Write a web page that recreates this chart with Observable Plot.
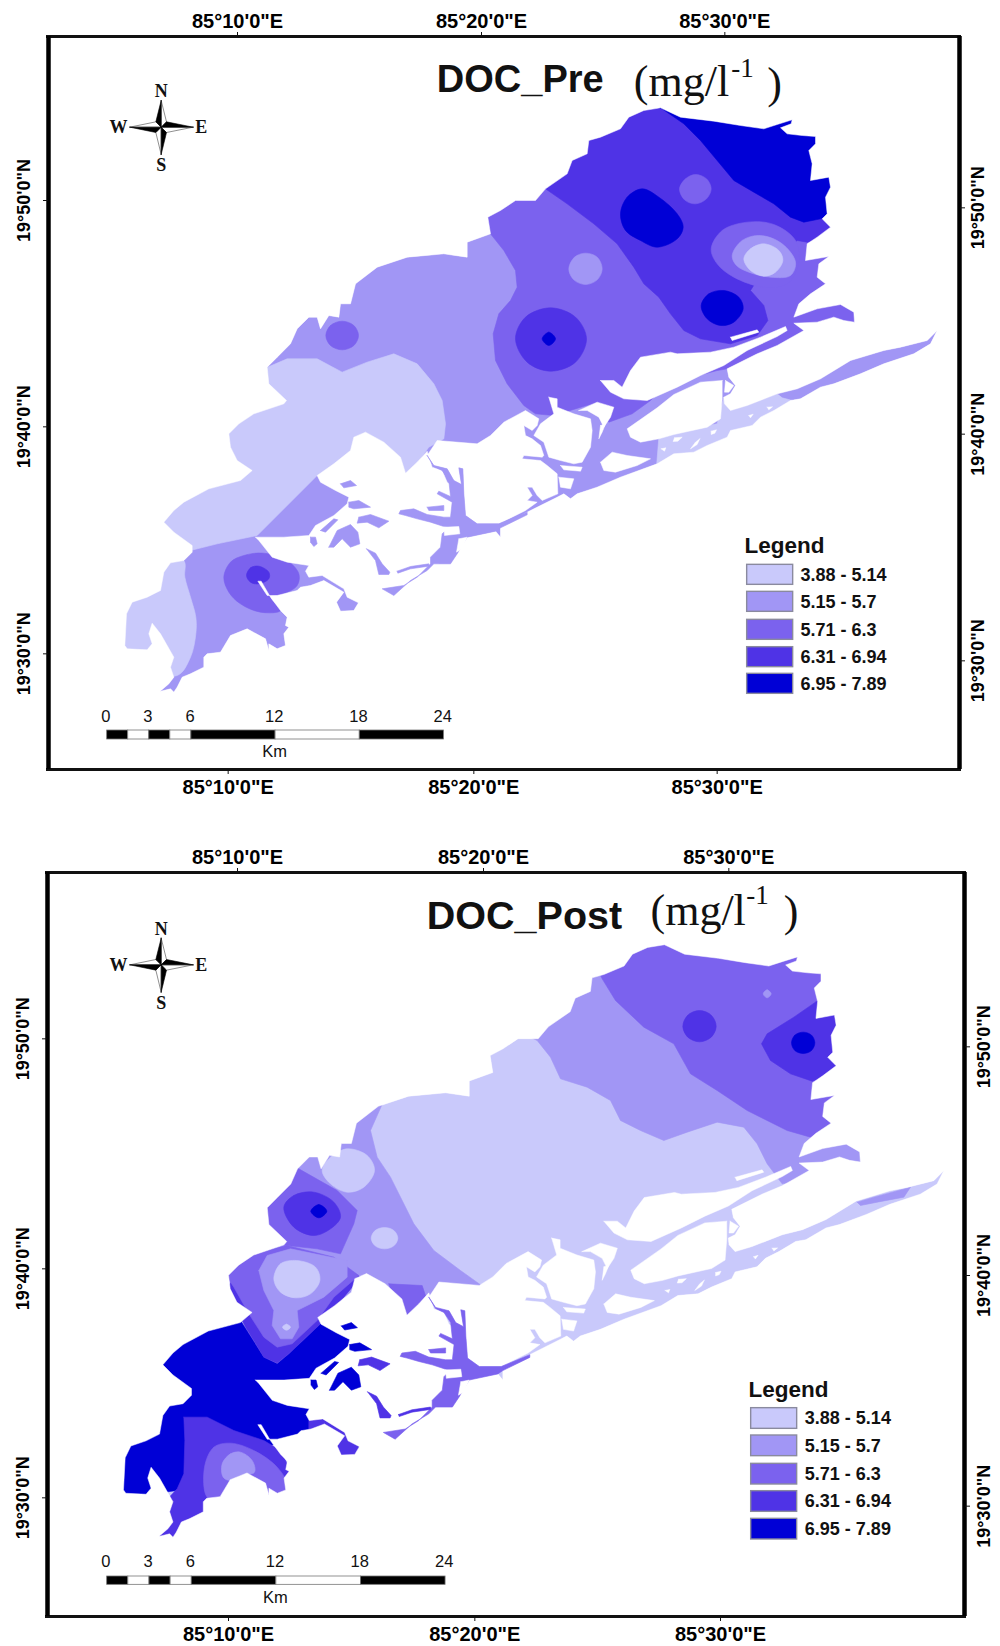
<!DOCTYPE html>
<html>
<head>
<meta charset="utf-8">
<script src="https://cdn.jsdelivr.net/npm/d3@7"></script>
<script src="https://cdn.jsdelivr.net/npm/@observablehq/plot@0.6"></script>
<style>
html,body{margin:0;padding:0;background:#fff}
svg{display:block}
</style>
</head>
<body>
<div id="chart"></div>
<script>
// Legend classes of DOC (mg/l)
const classes = ["3.88 - 5.14","5.15 - 5.7","5.71 - 6.3","6.31 - 6.94","6.95 - 7.89"];
const classColors = ["#c9c9fb","#a196f5","#7b62ee","#4f33e6","#0000d6"];
const [C1,C2,C3,C4,C5] = classes;

// Map grid: one unit is a third of a pixel (Pre panel).
const westCoast = [[478,2073],[505,2050],[520,2030],[510,2000],[520,1970],[480,1900],[455,1868],[445,1900],[455,1930],[440,1948],[380,1945],[373,1935],[378,1840],[395,1805],[440,1790],[480,1770],[490,1715],[510,1687],[550,1680],[575,1655],[575,1635],[520,1595],[490,1565],[520,1530],[550,1505],[625,1465],[720,1440],[755,1410],[710,1380],[690,1340],[685,1300],[715,1270],[760,1240],[850,1210],[858,1200],[805,1150],[800,1100],[830,1070],[870,1030],[890,985],[925,950],[950,950],[960,985],[985,945],[1015,950],[1020,910],[1050,910],[1065,850],[1130,800],[1220,770],[1330,760],[1400,770],[1400,725],[1470,700],[1462,650],[1500,630]];
const northCoast = [[1545,600],[1605,600],[1635,565],[1700,520],[1715,480],[1760,460],[1765,420],[1800,410],[1860,385],[1885,350],[1930,330],[1980,322],[2040,350],[2140,362],[2220,375],[2290,385],[2330,372],[2375,358],[2372,370],[2340,382],[2360,400],[2405,405],[2445,408],[2445,430],[2425,450],[2435,490],[2430,540],[2485,530],[2490,560],[2475,590],[2480,640],[2465,655],[2490,680],[2450,710],[2420,730],[2415,780],[2485,768],[2455,790],[2450,830],[2475,850],[2430,880],[2395,910],[2380,950],[2450,925],[2520,912],[2560,935],[2562,965],[2530,960],[2500,950],[2450,965],[2380,968],[2410,990]];
const spitCoast = [[2330,1035],[2270,1060],[2180,1105],[2185,1130],[2205,1155],[2190,1180],[2170,1190],[2172,1210],[2190,1230],[2240,1215],[2330,1180],[2390,1165],[2460,1135],[2550,1080],[2650,1050],[2700,1040],[2780,1020],[2810,990],[2790,1030],[2740,1060],[2650,1090],[2580,1120],[2500,1150],[2460,1160],[2400,1195],[2370,1200],[2320,1230],[2280,1250],[2255,1275],[2190,1290],[2180,1310],[2120,1335],[2080,1355],[2020,1360],[1970,1390],[1860,1430],[1790,1460],[1730,1480],[1710,1495],[1690,1480],[1670,1490],[1580,1535],[1500,1580],[1500,1610],[1485,1592],[1400,1610],[1370,1660],[1350,1690],[1300,1690],[1280,1710],[1230,1740],[1180,1785],[1145,1765]];
const southCoast = [[1075,1805],[1060,1830],[1020,1832],[1008,1805],[1030,1775],[970,1740],[930,1755],[900,1760],[890,1770],[830,1785],[800,1785],[772,1742],[782,1742],[810,1790],[840,1830],[860,1850],[855,1875],[865,1880],[850,1900],[855,1935],[830,1945],[805,1930],[805,1950],[795,1915],[740,1885],[690,1905],[660,1955],[620,1960],[610,1970],[610,2000],[570,2020],[545,2030],[530,2060],[520,2075],[510,2065]];
const coast = [...westCoast,...northCoast,...spitCoast,...southCoast];

// White islands inside the lagoon
const islandWest = [[765,1610],[850,1610],[925,1605],[945,1575],[1000,1545],[1040,1510],[1045,1490],[1005,1470],[960,1445],[950,1425],[1000,1390],[1050,1350],[1060,1310],[1095,1295],[1150,1325],[1200,1370],[1215,1418],[1250,1385],[1280,1352],[1295,1400],[1325,1410],[1340,1445],[1360,1460],[1360,1590],[1300,1720],[1150,1800],[1080,1810],[1040,1790],[1030,1765],[965,1725],[925,1730],[915,1712],[925,1695],[860,1685],[815,1670],[775,1620]];
const islandMiddle = [[1280,1365],[1310,1320],[1430,1330],[1470,1305],[1510,1265],[1575,1230],[1615,1255],[1610,1275],[1595,1290],[1570,1275],[1575,1305],[1595,1315],[1620,1335],[1630,1365],[1625,1370],[1570,1365],[1565,1375],[1620,1380],[1640,1395],[1670,1420],[1672,1480],[1625,1500],[1610,1485],[1595,1460],[1580,1460],[1595,1485],[1580,1500],[1610,1505],[1575,1530],[1495,1570],[1430,1570],[1395,1545],[1390,1480],[1387,1405],[1375,1402],[1383,1452],[1360,1440],[1340,1405],[1300,1395]];
const islandNorth = [[1645,1190],[1670,1195],[1670,1220],[1720,1240],[1770,1255],[1775,1290],[1770,1340],[1745,1385],[1720,1390],[1680,1380],[1645,1370],[1630,1325],[1600,1305],[1620,1270],[1660,1240]];
const islandNorthB = [[1735,1230],[1790,1205],[1840,1220],[1830,1250],[1810,1280],[1795,1250],[1760,1230]];
const islandSliver = [[1800,1275],[1815,1270],[1805,1295],[1795,1315]];
const islandLong = [[1800,1140],[1840,1140],[1865,1160],[1890,1110],[1920,1070],[2010,1055],[2030,1060],[2130,1055],[2200,1040],[2280,1010],[2355,978],[2360,990],[2330,1008],[2240,1050],[2170,1095],[2100,1125],[2030,1160],[1940,1200],[1870,1195],[1830,1175]];
const islandFleck = [[2190,1010],[2270,988],[2275,995],[2195,1020]];
const islandWedge = [[2165,1140],[2100,1145],[2020,1182],[1970,1222],[1880,1285],[1890,1310],[1920,1325],[1975,1315],[2020,1302],[2120,1280],[2160,1255],[2165,1195]];
const islandLagoon = [[1800,1385],[1835,1355],[1880,1365],[1950,1375],[1910,1395],[1845,1415],[1810,1410]];
const islandSmall1 = [[1675,1430],[1720,1435],[1710,1465],[1680,1460]];
const islandSmall2 = [[1680,1395],[1745,1400],[1740,1412],[1690,1408]];
const islandSmall3 = [[2175,1140],[2200,1155],[2185,1175],[2172,1175]];
const flecks = [[[2022,1312],[2045,1310],[2032,1322],[2018,1323]],[[2098,1315],[2090,1332],[2070,1345],[2085,1325]],[[1982,1345],[1996,1342],[1992,1352]],[[2132,1292],[2148,1288],[2143,1298],[2132,1302]],[[2300,1220],[2316,1219],[2305,1228]],[[2245,1245],[2258,1241],[2250,1252]]];
const islets = [[[1330,1580],[1375,1578],[1378,1600],[1332,1605]],[[1375,1615],[1400,1610],[1385,1645],[1368,1655]]];

// Tidal channels lying over the white islands
const channelNet = [[1280,1365],[1300,1395],[1340,1405],[1360,1440],[1383,1452],[1375,1402],[1387,1405],[1390,1480],[1395,1545],[1430,1570],[1495,1570],[1580,1535],[1580,1543],[1500,1582],[1485,1592],[1400,1610],[1370,1660],[1350,1690],[1300,1690],[1280,1710],[1230,1740],[1180,1785],[1145,1765],[1210,1755],[1250,1730],[1290,1690],[1290,1670],[1320,1640],[1325,1600],[1345,1580],[1330,1578],[1290,1565],[1250,1555],[1215,1545],[1195,1540],[1200,1530],[1240,1525],[1280,1542],[1330,1550],[1350,1550],[1355,1505],[1310,1480],[1315,1472],[1350,1488],[1345,1440],[1325,1410],[1300,1398]];
const channelBit = [[1280,1520],[1330,1515],[1330,1530],[1285,1530]];
const channelThin = [[1190,1712],[1230,1698],[1285,1690],[1285,1697],[1230,1705],[1192,1718]];
const channelA = [[1020,1450],[1050,1440],[1068,1455],[1030,1462]];
const channelB = [[1045,1505],[1075,1500],[1110,1520],[1060,1525],[1045,1520]];
const channelC = [[1075,1550],[1110,1542],[1165,1562],[1135,1582],[1100,1565],[1070,1568]];
const channelD = [[985,1640],[1010,1590],[1050,1572],[1072,1595],[1078,1630],[1050,1640],[1025,1615],[1000,1640]];
const channelE = [[960,1590],[1000,1555],[1012,1558],[975,1595]];
const channelF = [[930,1610],[945,1610],[950,1630],[940,1638],[930,1625]];
const channelG = [[1098,1645],[1125,1658],[1145,1690],[1168,1715],[1165,1722],[1135,1722],[1125,1680]];

// Contour zones, Pre panel
const prePolygons = [
  {c:C1, s:0, p:[[700,1120],[790,1105],[860,1075],[950,1075],[1025,1115],[1100,1085],[1180,1060],[1250,1090],[1300,1150],[1325,1200],[1335,1270],[1330,1315],[1285,1340],[1240,1400],[1230,1440],[1100,1450],[950,1425],[770,1605],[650,1630],[570,1650],[545,1680],[400,1680],[400,1500],[600,1200]]},
  {c:C1, s:1, p:[[300,1680],[548,1678],[553,1730],[570,1790],[586,1850],[586,1900],[570,1970],[530,2025],[400,2000],[300,1900]]},
  {c:C1, s:0, p:[[1975,1312],[2020,1295],[2150,1270],[2170,1190],[2190,1230],[2240,1215],[2330,1180],[2345,1192],[2395,1205],[2380,1300],[2100,1450],[1968,1398]]},
  {c:C3, s:0, p:[[1440,600],[1470,700],[1510,750],[1545,810],[1550,860],[1530,900],[1495,940],[1478,1000],[1485,1080],[1520,1150],[1570,1215],[1605,1240],[1660,1245],[1790,1205],[1825,1265],[1895,1240],[1950,1200],[2000,1150],[2150,1110],[2180,1105],[2420,1000],[2600,980],[2600,300],[1800,200]]},
  {c:C4, s:0, p:[[1600,530],[1635,565],[1700,610],[1780,670],[1850,730],[1900,800],[1930,850],[1975,890],[2010,940],[2050,990],[2100,1015],[2190,1030],[2270,1005],[2302,960],[2290,915],[2250,870],[2300,790],[2390,720],[2420,725],[2600,690],[2600,300],[1800,200]]},
  {c:C5, s:0, p:[[1960,318],[1985,325],[2050,370],[2100,420],[2150,480],[2200,540],[2260,575],[2320,610],[2370,650],[2410,665],[2460,655],[2520,630],[2600,630],[2600,300],[2000,280]]},
  {c:C5, s:1, p:[[1860,640],[1880,590],[1925,565],[1975,590],[2030,640],[2048,680],[2030,715],[1970,740],[1920,720],[1875,690]]},
  {c:C3, s:1, p:[[2037,565],[2055,535],[2085,522],[2118,535],[2132,565],[2118,595],[2085,610],[2052,598]]},
  {c:C2, s:1, p:[[1705,805],[1722,770],[1755,758],[1790,770],[1805,805],[1790,838],[1755,852],[1720,838]]},
  {c:C4, s:1, p:[[1545,1015],[1575,950],[1650,922],[1725,950],[1758,1015],[1725,1085],[1650,1112],[1580,1085]]},
  {c:C5, s:1, p:[[1625,1015],[1645,995],[1665,1015],[1645,1035]]},
  {c:C5, s:1, p:[[2102,915],[2125,880],[2170,870],[2215,890],[2228,925],[2200,965],[2160,975],[2120,955]]},
  {c:C3, s:1, p:[[2132,745],[2165,690],[2240,665],[2320,672],[2385,720],[2395,790],[2360,850],[2290,860],[2200,830],[2150,790]]},
  {c:C2, s:1, p:[[2195,765],[2225,720],[2280,705],[2345,730],[2385,785],[2370,825],[2310,830],[2245,815],[2208,795]]},
  {c:C1, s:1, p:[[2230,775],[2250,745],[2290,730],[2335,750],[2347,780],[2325,815],[2290,827],[2250,810]]},
  {c:C3, s:1, p:[[976,1005],[990,975],[1025,962],[1060,975],[1074,1005],[1060,1035],[1025,1048],[990,1035]]},
  {c:C3, s:1, p:[[670,1730],[690,1685],[730,1665],[790,1658],[860,1680],[895,1720],[890,1755],[850,1780],[810,1790],[840,1830],[780,1835],[720,1810],[685,1775]]},
  {c:C4, s:1, p:[[738,1725],[750,1702],[775,1697],[805,1715],[805,1735],[775,1750],[750,1745]]}
];

// Contour zones, Post panel, in the grid of that panel
const postPolygons = [
  {c:C2, s:0, p:[[1550,3090],[1610,3120],[1650,3170],[1680,3235],[1760,3260],[1830,3300],[1860,3360],[1920,3390],[1990,3420],[2060,3395],[2150,3365],[2230,3380],[2270,3430],[2300,3490],[2345,3550],[2600,3510],[2650,3000],[1800,2800]]},
  {c:C3, s:0, p:[[1780,2880],[1805,2935],[1845,3000],[1930,3080],[2020,3130],[2070,3220],[2150,3270],[2240,3330],[2360,3390],[2430,3410],[2500,3380],[2650,3000],[2450,2700],[1900,2700]]},
  {c:C2, s:1, p:[[2288,2980],[2300,2968],[2312,2980],[2300,2992]]},
  {c:C4, s:1, p:[[2047,3077],[2062,3044],[2097,3030],[2132,3044],[2147,3077],[2132,3110],[2097,3124],[2062,3110]]},
  {c:C4, s:0, p:[[2445,3005],[2380,3050],[2300,3100],[2283,3130],[2310,3180],[2370,3220],[2435,3242],[2520,3220],[2650,3100],[2550,2950]]},
  {c:C5, s:1, p:[[2373,3127],[2383,3104],[2408,3095],[2433,3104],[2443,3127],[2433,3150],[2408,3159],[2383,3150]]},
  {c:C2, s:0, p:[[2570,3605],[2620,3590],[2730,3560],[2710,3590],[2630,3605],[2580,3615]]},
  {c:C2, s:0, p:[[1150,3300],[1110,3390],[1130,3470],[1170,3530],[1210,3610],[1240,3670],[1300,3750],[1380,3810],[1450,3860],[1400,3900],[1100,3900],[950,3950],[800,4000],[600,3900],[600,3500],[900,3200],[1100,3250]]},
  {c:C1, s:1, p:[[965,3510],[990,3470],[1040,3445],[1100,3465],[1122,3510],[1090,3560],[1040,3575],[990,3550]]},
  {c:C1, s:1, p:[[1112,3713],[1124,3690],[1152,3681],[1180,3690],[1192,3713],[1180,3736],[1152,3745],[1124,3736]]},
  {c:C3, s:0, p:[[895,3505],[1010,3570],[1070,3630],[1060,3670],[1020,3760],[950,3745],[860,3735],[700,3720],[700,3550]]},
  {c:C4, s:1, p:[[850,3620],[880,3585],[940,3575],[1000,3605],[1020,3650],[990,3685],[940,3705],[880,3680]]},
  {c:C5, s:1, p:[[931,3632],[955,3612],[979,3632],[955,3652]]},
  {c:C5, s:0, p:[[720,3960],[790,4070],[830,4090],[865,4060],[960,3970],[1100,3950],[1100,4100],[1000,4200],[930,4240],[930,4290],[870,4315],[810,4335],[790,4345],[700,4300],[530,4470],[300,4500],[300,4000]]},
  {c:C4, s:0, p:[[680,3860],[720,3950],[735,3980],[790,4070],[830,4088],[865,4060],[960,3970],[980,3950],[1080,3830],[1000,3780],[760,3760]]},
  {c:C3, s:0, p:[[660,3800],[760,3755],[860,3735],[1000,3770],[1075,3825],[1000,3890],[950,3960],[875,4030],[830,4040],[790,4010],[745,3940],[700,3860]]},
  {c:C2, s:0, p:[[775,3810],[800,3765],[870,3745],[1040,3780],[1040,3830],[970,3890],[890,3930],[895,3980],[875,4015],[840,4015],[815,3975],[820,3930],[790,3870]]},
  {c:C1, s:1, p:[[820,3835],[840,3790],[888,3780],[945,3800],[958,3840],[930,3880],[885,3892],[840,3875]]},
  {c:C1, s:1, p:[[846,3980],[858,3971],[870,3980],[858,3989]]},
  {c:C3, s:0, p:[[1165,3850],[1265,3855],[1280,3900],[1240,3960],[1200,3950],[1180,3900]]},
  {c:C4, s:0, p:[[925,4240],[1100,4240],[1100,4400],[1000,4400],[925,4290]]},
  {c:C4, s:0, p:[[550,4250],[620,4250],[700,4290],[790,4320],[840,4350],[870,4410],[860,4480],[840,4500],[700,4560],[600,4620],[500,4650],[450,4550],[530,4465],[550,4420],[553,4320]]},
  {c:C3, s:1, p:[[612,4400],[640,4340],[690,4328],[760,4350],[830,4400],[870,4470],[860,4500],[800,4500],[720,4490],[660,4500],[620,4490]]},
  {c:C2, s:1, p:[[665,4390],[690,4360],[720,4355],[755,4380],[762,4415],[720,4425],[690,4440],[668,4430]]}
];

// Compass, offsets from its centre
const compassDark = [[[0,-80],[-16,-16],[0,0]],[[96,0],[16,-16],[0,0]],[[0,82],[16,16],[0,0]],[[-94,0],[-16,16],[0,0]]];
const compassPale = [[[0,-80],[16,-16],[0,0]],[[96,0],[16,16],[0,0]],[[0,82],[-16,16],[0,0]],[[-94,0],[-16,-16],[0,0]]];

const lonLabels = ["85°10'0\"E","85°20'0\"E","85°30'0\"E"];
const latLabels = ["19°50'0\"N","19°40'0\"N","19°30'0\"N"];
const barStops = [0,1.5,3,4.5,6,12,18,24];
const barLabels = [0,3,6,12,18,24];
const sans = "Liberation Sans, Arial, sans-serif";
const serif = "Liberation Serif, Times New Roman, serif";

const preGrid = ([x,y]) => [x,y];
const postGrid = ([x,y]) => [475+(x-478)*1.0099, 3510+(y-990)*1.0139];

const panels = [
 {title:"DOC_Pre", grid:preGrid, zones:prePolygons, base:C2, height:820,
  x:[144,2877], y:[2307,108], mt:36, mb:51, ml:48, mr:41, leftPad:14, rightPad:7,
  topTicks:[711,1443,2173], bottomTicks:[683,1420,2150], leftTicks:[600,1279,1960], rightTicks:[622,1301,1981],
  titleXY:[1309,238], titleSize:38, unitXY:[1900,245], supXY:[2192,205], closeXY:[2300,250],
  compass:[482,380], bar:{x0:320,k:42.1,y1:2190,y2:2217,labelY:2150,kmY:2254},
  legend:{x1:2240,x2:2378,tops:[1693,1774,1858,1940,2020],h:60,labelX:2400,titleX:2232,titleY:1637},
  channels:{net:C2,bit:C2,thin:C2,a:C2,b:C2,c:C2,d:C2,e:C2,f:C2,g:C2}},
 {title:"DOC_Post", grid:postGrid, zones:postPolygons, base:C1, height:826,
  x:[141,2892], y:[4848,2616], mt:52, mb:30, ml:47, mr:36, leftPad:14, rightPad:8,
  topTicks:[711,1449,2185], bottomTicks:[684,1423,2160], leftTicks:[3115,3805,4492], rightTicks:[3139,3825,4517],
  titleXY:[1279,2748], titleSize:39.5, unitXY:[1950,2730], supXY:[2237,2685], closeXY:[2350,2735],
  compass:[482,2893], bar:{x0:320,k:42.3,y1:4728,y2:4753,labelY:4685,kmY:4792},
  legend:{x1:2252,x2:2390,tops:[4223,4305,4390,4472,4555],h:62,labelX:2413,titleX:2244,titleY:4167},
  channels:{net:C3,bit:C3,thin:C4,a:C5,b:C5,c:C4,d:C5,e:C5,f:C5,g:C4}}
];

function closed(pts){ return [...pts, pts[0]]; }
function shape(pts, c, curve="linear"){
  return Plot.line(curve === "linear" ? closed(pts) : pts, {x:d=>d[0], y:d=>d[1], fill:()=>c, stroke:()=>c, strokeWidth:0.6, curve});
}
function paper(pts){
  return Plot.line(closed(pts), {x:d=>d[0], y:d=>d[1], fill:"white", stroke:"white", strokeWidth:0.5});
}
const tt = (t,x,y,o) => Plot.text([t], {x:()=>x, y:()=>y, text:d=>d, ...o});

function panel(p){
  const g = pts => pts.map(p.grid);
  // sea: the outer frame traversed against the coast, joined at the south-west where no land is crossed
  const sea = [[-50,2460],[-50,-50],[3100,-50],[3100,2460],[-50,2460],coast[0],...[...coast].reverse(),coast[0]];
  const whites = [islandWest,islandMiddle,islandNorth,islandNorthB,islandSliver,islandLong,islandFleck,islandWedge,islandLagoon,islandSmall1,islandSmall2,islandSmall3];
  const ch = p.channels;
  const chans = [[channelNet,ch.net],[channelBit,ch.bit],[channelThin,ch.thin],[channelA,ch.a],[channelB,ch.b],[channelC,ch.c],[channelD,ch.d],[channelE,ch.e],[channelF,ch.f],[channelG,ch.g]];
  const [cx,cy] = p.compass;
  const off = t => t.map(([a,b])=>[cx+a,cy+b]);
  const [fx0,fx1] = p.x; const [fy1,fy0] = p.y;
  const axisText = {fontWeight:"bold", fontFamily:sans, label:null, tickSize:5, stroke:"#111"};
  const lonFmt = ticks => (d => lonLabels[ticks.indexOf(d)]);
  const latFmt = ticks => (d => latLabels[ticks.indexOf(d)]);
  const b = p.bar, l = p.legend;
  const barX = k => b.x0 + k*b.k;
  const segs = barStops.slice(0,-1).map((s,i)=>({a:s,b:barStops[i+1],dark:i%2===0}));
  segs[4].dark = true; segs[5].dark = false; segs[6].dark = true;
  const rows = classes.map((c,i)=>({c, top:l.tops[i]}));

  const marks = [
    shape(g(coast), p.base),
    ...p.zones.map(z => shape(z.p, z.c, z.s ? "catmull-rom-closed" : "linear")),
    paper(g(sea)),
    ...whites.map(w => paper(g(w))),
    ...chans.map(([pts,c]) => shape(g(pts), c)),
    ...[...islets,...flecks].map(w => paper(g(w))),
    // frame
    Plot.ruleY([fy0,fy1], {x1:fx0-6, x2:fx1+6, stroke:"#111", strokeWidth:3}),
    Plot.ruleX([fx0,fx1], {y1:fy0, y2:fy1, stroke:"#000", strokeWidth:4.5}),
    // graticule axes
    Plot.axisX({...axisText, anchor:"top", ticks:p.topTicks, tickFormat:lonFmt(p.topTicks), fontSize:20, tickPadding:4}),
    Plot.axisX({...axisText, anchor:"bottom", ticks:p.bottomTicks, tickFormat:lonFmt(p.bottomTicks), fontSize:20, tickPadding:5}),
    Plot.axisY({...axisText, anchor:"left", ticks:p.leftTicks, tickFormat:latFmt(p.leftTicks), fontSize:18, tickRotate:-90, tickPadding:p.leftPad}),
    Plot.axisY({...axisText, anchor:"right", ticks:p.rightTicks, tickFormat:latFmt(p.rightTicks), fontSize:18, tickRotate:-90, tickPadding:p.rightPad, lineAnchor:"top"}),
    // title
    tt(p.title, p.titleXY[0], p.titleXY[1], {fontFamily:sans, fontWeight:"bold", fontSize:p.titleSize, textAnchor:"start", fill:"#111"}),
    tt("(mg/l", p.unitXY[0], p.unitXY[1], {fontFamily:serif, fontSize:44, textAnchor:"start", fill:"#111"}),
    tt("-1", p.supXY[0], p.supXY[1], {fontFamily:serif, fontSize:27, textAnchor:"start", fill:"#111"}),
    tt(")", p.closeXY[0], p.closeXY[1], {fontFamily:serif, fontSize:44, textAnchor:"start", fill:"#111"}),
    // compass
    ...compassPale.map(t => Plot.line(closed(off(t)), {x:d=>d[0], y:d=>d[1], fill:"white", stroke:"#444", strokeWidth:0.6})),
    ...compassDark.map(t => Plot.line(closed(off(t)), {x:d=>d[0], y:d=>d[1], fill:"black", stroke:"black", strokeWidth:0.6})),
    tt("N", cx, cy-108, {fontFamily:serif, fontWeight:"bold", fontSize:18, fill:"#111"}),
    tt("S", cx, cy+115, {fontFamily:serif, fontWeight:"bold", fontSize:18, fill:"#111"}),
    tt("W", cx-128, cy, {fontFamily:serif, fontWeight:"bold", fontSize:18, fill:"#111"}),
    tt("E", cx+120, cy, {fontFamily:serif, fontWeight:"bold", fontSize:18, fill:"#111"}),
    // scale bar
    Plot.rect(segs, {x1:d=>barX(d.a), x2:d=>barX(d.b), y1:()=>b.y1, y2:()=>b.y2, fill:d=>d.dark?"black":"white", stroke:"#777", strokeWidth:0.8}),
    Plot.text(barLabels, {x:d=>barX(d)-4, y:()=>b.labelY, text:d=>String(d), fontFamily:sans, fontSize:16.5, fill:"#111"}),
    tt("Km", barX(12)-3, b.kmY, {fontFamily:sans, fontSize:16.5, fill:"#111"}),
    // legend
    tt("Legend", l.titleX, l.titleY, {fontFamily:sans, fontWeight:"bold", fontSize:22.5, textAnchor:"start", fill:"#111"}),
    Plot.rect(rows, {x1:()=>l.x1, x2:()=>l.x2, y1:d=>d.top, y2:d=>d.top+l.h, fill:"c", stroke:"#8a8a9e", strokeWidth:1.4}),
    Plot.text(rows, {x:()=>l.labelX, y:d=>d.top+l.h/2, text:"c", fontFamily:sans, fontWeight:"bold", fontSize:18, textAnchor:"start", fill:"#111"})
  ];
  return Plot.plot({
    width:1000, height:p.height,
    marginTop:p.mt, marginBottom:p.mb, marginLeft:p.ml, marginRight:p.mr,
    x:{domain:p.x, axis:null}, y:{domain:p.y, axis:null},
    color:{type:"ordinal", domain:classes, range:classColors},
    style:{background:"white", overflow:"visible"},
    marks
  });
}
const host = document.getElementById("chart");
panels.forEach(p => host.appendChild(panel(p)));
</script>
</body>
</html>
